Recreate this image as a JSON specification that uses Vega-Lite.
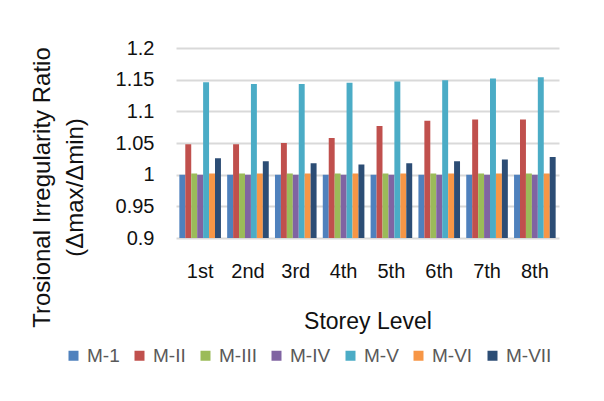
{
  "$schema": "https://vega.github.io/schema/vega-lite/v6.json",
  "autosize": "none",
  "width": 383,
  "height": 190,
  "padding": {"left": 176, "top": 48, "right": 45, "bottom": 163},
  "background": "white",
  "config": {
    "font": "Liberation Sans",
    "view": {"stroke": null},
    "axis": {"labelFont": "Liberation Sans", "titleFont": "Liberation Sans", "labelColor": "#111111", "titleColor": "#111111", "titleFontWeight": "normal"}
  },
  "data": {
    "values": [
      {"level": "1st", "model": "M-1", "value": 1.0},
      {"level": "1st", "model": "M-II", "value": 1.048},
      {"level": "1st", "model": "M-III", "value": 1.002},
      {"level": "1st", "model": "M-IV", "value": 1.0},
      {"level": "1st", "model": "M-V", "value": 1.146},
      {"level": "1st", "model": "M-VI", "value": 1.002},
      {"level": "1st", "model": "M-VII", "value": 1.026},
      {"level": "2nd", "model": "M-1", "value": 1.0},
      {"level": "2nd", "model": "M-II", "value": 1.048},
      {"level": "2nd", "model": "M-III", "value": 1.002},
      {"level": "2nd", "model": "M-IV", "value": 1.0},
      {"level": "2nd", "model": "M-V", "value": 1.143},
      {"level": "2nd", "model": "M-VI", "value": 1.002},
      {"level": "2nd", "model": "M-VII", "value": 1.021},
      {"level": "3rd", "model": "M-1", "value": 1.0},
      {"level": "3rd", "model": "M-II", "value": 1.05},
      {"level": "3rd", "model": "M-III", "value": 1.002},
      {"level": "3rd", "model": "M-IV", "value": 1.0},
      {"level": "3rd", "model": "M-V", "value": 1.143},
      {"level": "3rd", "model": "M-VI", "value": 1.002},
      {"level": "3rd", "model": "M-VII", "value": 1.018},
      {"level": "4th", "model": "M-1", "value": 1.0},
      {"level": "4th", "model": "M-II", "value": 1.058},
      {"level": "4th", "model": "M-III", "value": 1.002},
      {"level": "4th", "model": "M-IV", "value": 1.0},
      {"level": "4th", "model": "M-V", "value": 1.145},
      {"level": "4th", "model": "M-VI", "value": 1.002},
      {"level": "4th", "model": "M-VII", "value": 1.016},
      {"level": "5th", "model": "M-1", "value": 1.0},
      {"level": "5th", "model": "M-II", "value": 1.077},
      {"level": "5th", "model": "M-III", "value": 1.002},
      {"level": "5th", "model": "M-IV", "value": 1.0},
      {"level": "5th", "model": "M-V", "value": 1.147},
      {"level": "5th", "model": "M-VI", "value": 1.002},
      {"level": "5th", "model": "M-VII", "value": 1.018},
      {"level": "6th", "model": "M-1", "value": 1.0},
      {"level": "6th", "model": "M-II", "value": 1.085},
      {"level": "6th", "model": "M-III", "value": 1.002},
      {"level": "6th", "model": "M-IV", "value": 1.0},
      {"level": "6th", "model": "M-V", "value": 1.149},
      {"level": "6th", "model": "M-VI", "value": 1.002},
      {"level": "6th", "model": "M-VII", "value": 1.021},
      {"level": "7th", "model": "M-1", "value": 1.0},
      {"level": "7th", "model": "M-II", "value": 1.087},
      {"level": "7th", "model": "M-III", "value": 1.002},
      {"level": "7th", "model": "M-IV", "value": 1.0},
      {"level": "7th", "model": "M-V", "value": 1.152},
      {"level": "7th", "model": "M-VI", "value": 1.002},
      {"level": "7th", "model": "M-VII", "value": 1.024},
      {"level": "8th", "model": "M-1", "value": 1.0},
      {"level": "8th", "model": "M-II", "value": 1.087},
      {"level": "8th", "model": "M-III", "value": 1.002},
      {"level": "8th", "model": "M-IV", "value": 1.0},
      {"level": "8th", "model": "M-V", "value": 1.154},
      {"level": "8th", "model": "M-VI", "value": 1.002},
      {"level": "8th", "model": "M-VII", "value": 1.028}
    ]
  },
  "mark": {"type": "bar", "clip": true},
  "encoding": {
    "x": {
      "field": "level", "type": "nominal", "sort": null,
      "scale": {"paddingInner": 0.13, "paddingOuter": 0.07},
      "axis": {"title": "Storey Level", "labelAngle": 0, "labelFontSize": 20, "titleFontSize": 23, "labelPadding": 23, "titlePadding": 29, "domain": false, "ticks": false}
    },
    "xOffset": {"field": "model", "type": "nominal", "sort": null},
    "y": {
      "field": "value", "type": "quantitative",
      "scale": {"domain": [0.9, 1.2], "zero": false, "nice": false},
      "axis": {
        "title": ["Trosional Irregularity Ratio", "(Δmax/Δmin)"],
        "titleFontSize": 24, "titlePadding": 28, "titleLineHeight": 33, "titleY": 139,
        "labelFontSize": 20, "labelPadding": 22,
        "values": [0.9, 0.95, 1.0, 1.05, 1.1, 1.15, 1.2],
        "format": "~g",
        "domain": false, "ticks": false,
        "gridColor": "#d9d9d9", "gridWidth": 2
      }
    },
    "color": {
      "field": "model", "type": "nominal", "sort": null,
      "scale": {
        "domain": ["M-1", "M-II", "M-III", "M-IV", "M-V", "M-VI", "M-VII"],
        "range": ["#4F81BD", "#C0504D", "#9BBB59", "#8064A2", "#4BACC6", "#F79646", "#2C4D75"]
      },
      "legend": {
        "title": null, "orient": "none", "direction": "horizontal",
        "legendX": -112, "legendY": 298,
        "symbolType": "square", "symbolSize": 100, "symbolStrokeWidth": 0,
        "labelFontSize": 19, "labelColor": "#595959", "labelFont": "Liberation Sans",
        "columnPadding": 10, "labelOffset": 4
      }
    }
  }
}
